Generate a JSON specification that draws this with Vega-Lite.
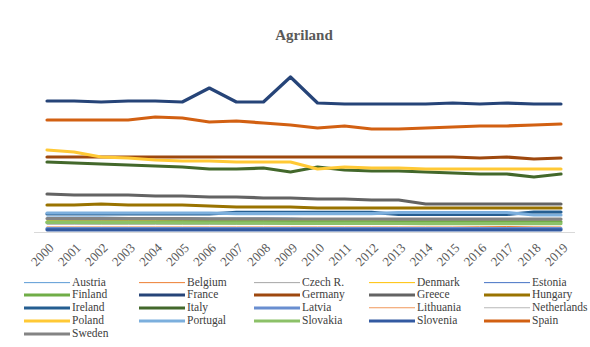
{
  "$schema": "https://vega.github.io/schema/vega-lite/v6.json",
  "width": 541,
  "height": 172,
  "autosize": {"type": "none"},
  "padding": {"left": 33.5, "top": 60, "right": 15.5, "bottom": 115},
  "background": "white",
  "title": {"text": "Agriland", "anchor": "middle", "offset": 17, "font": "Liberation Serif", "fontSize": 15, "fontWeight": "bold", "color": "#595959"},
  "config": {"view": {"stroke": null}},
  "datasets": {
    "agri": [
      {"country":"Austria","year":"2000","value":3375},{"country":"Austria","year":"2001","value":3375},{"country":"Austria","year":"2002","value":3375},{"country":"Austria","year":"2003","value":3263},{"country":"Austria","year":"2004","value":3263},{"country":"Austria","year":"2005","value":3263},{"country":"Austria","year":"2006","value":3150},{"country":"Austria","year":"2007","value":3150},{"country":"Austria","year":"2008","value":3150},{"country":"Austria","year":"2009","value":3150},{"country":"Austria","year":"2010","value":2925},{"country":"Austria","year":"2011","value":2925},{"country":"Austria","year":"2012","value":2813},{"country":"Austria","year":"2013","value":2813},{"country":"Austria","year":"2014","value":2813},{"country":"Austria","year":"2015","value":2700},{"country":"Austria","year":"2016","value":2700},{"country":"Austria","year":"2017","value":2700},{"country":"Austria","year":"2018","value":2700},{"country":"Austria","year":"2019","value":2700},
      {"country":"Belgium","year":"2000","value":1125},{"country":"Belgium","year":"2001","value":1125},{"country":"Belgium","year":"2002","value":1125},{"country":"Belgium","year":"2003","value":1125},{"country":"Belgium","year":"2004","value":1125},{"country":"Belgium","year":"2005","value":1125},{"country":"Belgium","year":"2006","value":1125},{"country":"Belgium","year":"2007","value":1125},{"country":"Belgium","year":"2008","value":1125},{"country":"Belgium","year":"2009","value":1125},{"country":"Belgium","year":"2010","value":1125},{"country":"Belgium","year":"2011","value":1125},{"country":"Belgium","year":"2012","value":1125},{"country":"Belgium","year":"2013","value":1125},{"country":"Belgium","year":"2014","value":1125},{"country":"Belgium","year":"2015","value":1125},{"country":"Belgium","year":"2016","value":1180},{"country":"Belgium","year":"2017","value":1240},{"country":"Belgium","year":"2018","value":1150},{"country":"Belgium","year":"2019","value":1125},
      {"country":"Czech R.","year":"2000","value":4280},{"country":"Czech R.","year":"2001","value":4280},{"country":"Czech R.","year":"2002","value":4275},{"country":"Czech R.","year":"2003","value":4270},{"country":"Czech R.","year":"2004","value":4265},{"country":"Czech R.","year":"2005","value":4260},{"country":"Czech R.","year":"2006","value":4255},{"country":"Czech R.","year":"2007","value":4250},{"country":"Czech R.","year":"2008","value":4250},{"country":"Czech R.","year":"2009","value":4245},{"country":"Czech R.","year":"2010","value":4240},{"country":"Czech R.","year":"2011","value":4235},{"country":"Czech R.","year":"2012","value":4230},{"country":"Czech R.","year":"2013","value":4225},{"country":"Czech R.","year":"2014","value":4220},{"country":"Czech R.","year":"2015","value":4215},{"country":"Czech R.","year":"2016","value":4210},{"country":"Czech R.","year":"2017","value":4205},{"country":"Czech R.","year":"2018","value":4200},{"country":"Czech R.","year":"2019","value":4200},
      {"country":"Denmark","year":"2000","value":2640},{"country":"Denmark","year":"2001","value":2640},{"country":"Denmark","year":"2002","value":2640},{"country":"Denmark","year":"2003","value":2620},{"country":"Denmark","year":"2004","value":2620},{"country":"Denmark","year":"2005","value":2600},{"country":"Denmark","year":"2006","value":2600},{"country":"Denmark","year":"2007","value":2600},{"country":"Denmark","year":"2008","value":2600},{"country":"Denmark","year":"2009","value":2600},{"country":"Denmark","year":"2010","value":2620},{"country":"Denmark","year":"2011","value":2620},{"country":"Denmark","year":"2012","value":2620},{"country":"Denmark","year":"2013","value":2620},{"country":"Denmark","year":"2014","value":2620},{"country":"Denmark","year":"2015","value":2620},{"country":"Denmark","year":"2016","value":2620},{"country":"Denmark","year":"2017","value":2620},{"country":"Denmark","year":"2018","value":2620},{"country":"Denmark","year":"2019","value":2620},
      {"country":"Estonia","year":"2000","value":880},{"country":"Estonia","year":"2001","value":880},{"country":"Estonia","year":"2002","value":880},{"country":"Estonia","year":"2003","value":880},{"country":"Estonia","year":"2004","value":880},{"country":"Estonia","year":"2005","value":880},{"country":"Estonia","year":"2006","value":900},{"country":"Estonia","year":"2007","value":900},{"country":"Estonia","year":"2008","value":900},{"country":"Estonia","year":"2009","value":900},{"country":"Estonia","year":"2010","value":940},{"country":"Estonia","year":"2011","value":940},{"country":"Estonia","year":"2012","value":940},{"country":"Estonia","year":"2013","value":960},{"country":"Estonia","year":"2014","value":960},{"country":"Estonia","year":"2015","value":980},{"country":"Estonia","year":"2016","value":980},{"country":"Estonia","year":"2017","value":980},{"country":"Estonia","year":"2018","value":980},{"country":"Estonia","year":"2019","value":980},
      {"country":"Finland","year":"2000","value":2220},{"country":"Finland","year":"2001","value":2220},{"country":"Finland","year":"2002","value":2220},{"country":"Finland","year":"2003","value":2230},{"country":"Finland","year":"2004","value":2240},{"country":"Finland","year":"2005","value":2260},{"country":"Finland","year":"2006","value":2270},{"country":"Finland","year":"2007","value":2270},{"country":"Finland","year":"2008","value":2270},{"country":"Finland","year":"2009","value":2290},{"country":"Finland","year":"2010","value":2290},{"country":"Finland","year":"2011","value":2290},{"country":"Finland","year":"2012","value":2280},{"country":"Finland","year":"2013","value":2270},{"country":"Finland","year":"2014","value":2270},{"country":"Finland","year":"2015","value":2270},{"country":"Finland","year":"2016","value":2270},{"country":"Finland","year":"2017","value":2270},{"country":"Finland","year":"2018","value":2280},{"country":"Finland","year":"2019","value":2280},
      {"country":"France","year":"2000","value":29475},{"country":"France","year":"2001","value":29475},{"country":"France","year":"2002","value":29250},{"country":"France","year":"2003","value":29475},{"country":"France","year":"2004","value":29475},{"country":"France","year":"2005","value":29250},{"country":"France","year":"2006","value":32400},{"country":"France","year":"2007","value":29250},{"country":"France","year":"2008","value":29250},{"country":"France","year":"2009","value":34875},{"country":"France","year":"2010","value":29025},{"country":"France","year":"2011","value":28800},{"country":"France","year":"2012","value":28800},{"country":"France","year":"2013","value":28800},{"country":"France","year":"2014","value":28800},{"country":"France","year":"2015","value":29025},{"country":"France","year":"2016","value":28800},{"country":"France","year":"2017","value":29025},{"country":"France","year":"2018","value":28800},{"country":"France","year":"2019","value":28800},
      {"country":"Germany","year":"2000","value":16875},{"country":"Germany","year":"2001","value":16875},{"country":"Germany","year":"2002","value":16875},{"country":"Germany","year":"2003","value":16875},{"country":"Germany","year":"2004","value":16875},{"country":"Germany","year":"2005","value":16875},{"country":"Germany","year":"2006","value":16875},{"country":"Germany","year":"2007","value":16875},{"country":"Germany","year":"2008","value":16875},{"country":"Germany","year":"2009","value":16875},{"country":"Germany","year":"2010","value":16875},{"country":"Germany","year":"2011","value":16875},{"country":"Germany","year":"2012","value":16875},{"country":"Germany","year":"2013","value":16875},{"country":"Germany","year":"2014","value":16875},{"country":"Germany","year":"2015","value":16875},{"country":"Germany","year":"2016","value":16650},{"country":"Germany","year":"2017","value":16875},{"country":"Germany","year":"2018","value":16425},{"country":"Germany","year":"2019","value":16650},
      {"country":"Greece","year":"2000","value":8550},{"country":"Greece","year":"2001","value":8325},{"country":"Greece","year":"2002","value":8325},{"country":"Greece","year":"2003","value":8325},{"country":"Greece","year":"2004","value":8100},{"country":"Greece","year":"2005","value":8100},{"country":"Greece","year":"2006","value":7875},{"country":"Greece","year":"2007","value":7875},{"country":"Greece","year":"2008","value":7650},{"country":"Greece","year":"2009","value":7650},{"country":"Greece","year":"2010","value":7425},{"country":"Greece","year":"2011","value":7425},{"country":"Greece","year":"2012","value":7200},{"country":"Greece","year":"2013","value":7200},{"country":"Greece","year":"2014","value":6300},{"country":"Greece","year":"2015","value":6300},{"country":"Greece","year":"2016","value":6300},{"country":"Greece","year":"2017","value":6300},{"country":"Greece","year":"2018","value":6300},{"country":"Greece","year":"2019","value":6300},
      {"country":"Hungary","year":"2000","value":6075},{"country":"Hungary","year":"2001","value":6075},{"country":"Hungary","year":"2002","value":6300},{"country":"Hungary","year":"2003","value":6075},{"country":"Hungary","year":"2004","value":6075},{"country":"Hungary","year":"2005","value":6075},{"country":"Hungary","year":"2006","value":5850},{"country":"Hungary","year":"2007","value":5625},{"country":"Hungary","year":"2008","value":5625},{"country":"Hungary","year":"2009","value":5625},{"country":"Hungary","year":"2010","value":5400},{"country":"Hungary","year":"2011","value":5400},{"country":"Hungary","year":"2012","value":5400},{"country":"Hungary","year":"2013","value":5400},{"country":"Hungary","year":"2014","value":5400},{"country":"Hungary","year":"2015","value":5400},{"country":"Hungary","year":"2016","value":5400},{"country":"Hungary","year":"2017","value":5400},{"country":"Hungary","year":"2018","value":5400},{"country":"Hungary","year":"2019","value":5400},
      {"country":"Ireland","year":"2000","value":4050},{"country":"Ireland","year":"2001","value":4050},{"country":"Ireland","year":"2002","value":4050},{"country":"Ireland","year":"2003","value":4050},{"country":"Ireland","year":"2004","value":4050},{"country":"Ireland","year":"2005","value":4050},{"country":"Ireland","year":"2006","value":4050},{"country":"Ireland","year":"2007","value":4400},{"country":"Ireland","year":"2008","value":4400},{"country":"Ireland","year":"2009","value":4400},{"country":"Ireland","year":"2010","value":4400},{"country":"Ireland","year":"2011","value":4400},{"country":"Ireland","year":"2012","value":4400},{"country":"Ireland","year":"2013","value":3940},{"country":"Ireland","year":"2014","value":3940},{"country":"Ireland","year":"2015","value":3940},{"country":"Ireland","year":"2016","value":3940},{"country":"Ireland","year":"2017","value":3940},{"country":"Ireland","year":"2018","value":4500},{"country":"Ireland","year":"2019","value":4500},
      {"country":"Italy","year":"2000","value":15750},{"country":"Italy","year":"2001","value":15525},{"country":"Italy","year":"2002","value":15300},{"country":"Italy","year":"2003","value":15075},{"country":"Italy","year":"2004","value":14850},{"country":"Italy","year":"2005","value":14625},{"country":"Italy","year":"2006","value":14175},{"country":"Italy","year":"2007","value":14175},{"country":"Italy","year":"2008","value":14400},{"country":"Italy","year":"2009","value":13500},{"country":"Italy","year":"2010","value":14625},{"country":"Italy","year":"2011","value":13950},{"country":"Italy","year":"2012","value":13725},{"country":"Italy","year":"2013","value":13725},{"country":"Italy","year":"2014","value":13500},{"country":"Italy","year":"2015","value":13275},{"country":"Italy","year":"2016","value":13050},{"country":"Italy","year":"2017","value":13050},{"country":"Italy","year":"2018","value":12375},{"country":"Italy","year":"2019","value":13050},
      {"country":"Latvia","year":"2000","value":790},{"country":"Latvia","year":"2001","value":790},{"country":"Latvia","year":"2002","value":790},{"country":"Latvia","year":"2003","value":790},{"country":"Latvia","year":"2004","value":790},{"country":"Latvia","year":"2005","value":790},{"country":"Latvia","year":"2006","value":790},{"country":"Latvia","year":"2007","value":790},{"country":"Latvia","year":"2008","value":790},{"country":"Latvia","year":"2009","value":790},{"country":"Latvia","year":"2010","value":790},{"country":"Latvia","year":"2011","value":790},{"country":"Latvia","year":"2012","value":790},{"country":"Latvia","year":"2013","value":790},{"country":"Latvia","year":"2014","value":790},{"country":"Latvia","year":"2015","value":790},{"country":"Latvia","year":"2016","value":790},{"country":"Latvia","year":"2017","value":790},{"country":"Latvia","year":"2018","value":790},{"country":"Latvia","year":"2019","value":790},
      {"country":"Lithuania","year":"2000","value":2930},{"country":"Lithuania","year":"2001","value":2930},{"country":"Lithuania","year":"2002","value":2930},{"country":"Lithuania","year":"2003","value":2930},{"country":"Lithuania","year":"2004","value":3150},{"country":"Lithuania","year":"2005","value":3150},{"country":"Lithuania","year":"2006","value":2930},{"country":"Lithuania","year":"2007","value":2930},{"country":"Lithuania","year":"2008","value":2930},{"country":"Lithuania","year":"2009","value":2930},{"country":"Lithuania","year":"2010","value":2930},{"country":"Lithuania","year":"2011","value":2930},{"country":"Lithuania","year":"2012","value":2930},{"country":"Lithuania","year":"2013","value":2930},{"country":"Lithuania","year":"2014","value":2930},{"country":"Lithuania","year":"2015","value":2930},{"country":"Lithuania","year":"2016","value":2930},{"country":"Lithuania","year":"2017","value":2930},{"country":"Lithuania","year":"2018","value":2930},{"country":"Lithuania","year":"2019","value":2930},
      {"country":"Netherlands","year":"2000","value":1700},{"country":"Netherlands","year":"2001","value":1700},{"country":"Netherlands","year":"2002","value":1700},{"country":"Netherlands","year":"2003","value":1700},{"country":"Netherlands","year":"2004","value":1700},{"country":"Netherlands","year":"2005","value":1700},{"country":"Netherlands","year":"2006","value":1700},{"country":"Netherlands","year":"2007","value":1700},{"country":"Netherlands","year":"2008","value":1700},{"country":"Netherlands","year":"2009","value":1700},{"country":"Netherlands","year":"2010","value":1700},{"country":"Netherlands","year":"2011","value":1700},{"country":"Netherlands","year":"2012","value":1700},{"country":"Netherlands","year":"2013","value":1700},{"country":"Netherlands","year":"2014","value":1700},{"country":"Netherlands","year":"2015","value":1700},{"country":"Netherlands","year":"2016","value":1700},{"country":"Netherlands","year":"2017","value":1700},{"country":"Netherlands","year":"2018","value":1700},{"country":"Netherlands","year":"2019","value":1700},
      {"country":"Poland","year":"2000","value":18450},{"country":"Poland","year":"2001","value":18000},{"country":"Poland","year":"2002","value":16875},{"country":"Poland","year":"2003","value":16650},{"country":"Poland","year":"2004","value":16200},{"country":"Poland","year":"2005","value":15975},{"country":"Poland","year":"2006","value":15975},{"country":"Poland","year":"2007","value":15750},{"country":"Poland","year":"2008","value":15750},{"country":"Poland","year":"2009","value":15750},{"country":"Poland","year":"2010","value":14175},{"country":"Poland","year":"2011","value":14625},{"country":"Poland","year":"2012","value":14400},{"country":"Poland","year":"2013","value":14400},{"country":"Poland","year":"2014","value":14175},{"country":"Poland","year":"2015","value":14175},{"country":"Poland","year":"2016","value":14175},{"country":"Poland","year":"2017","value":14175},{"country":"Poland","year":"2018","value":14175},{"country":"Poland","year":"2019","value":14175},
      {"country":"Portugal","year":"2000","value":4275},{"country":"Portugal","year":"2001","value":4275},{"country":"Portugal","year":"2002","value":4275},{"country":"Portugal","year":"2003","value":4275},{"country":"Portugal","year":"2004","value":4275},{"country":"Portugal","year":"2005","value":4275},{"country":"Portugal","year":"2006","value":4275},{"country":"Portugal","year":"2007","value":4150},{"country":"Portugal","year":"2008","value":4150},{"country":"Portugal","year":"2009","value":4150},{"country":"Portugal","year":"2010","value":4150},{"country":"Portugal","year":"2011","value":4150},{"country":"Portugal","year":"2012","value":4150},{"country":"Portugal","year":"2013","value":4390},{"country":"Portugal","year":"2014","value":4390},{"country":"Portugal","year":"2015","value":4390},{"country":"Portugal","year":"2016","value":4390},{"country":"Portugal","year":"2017","value":4390},{"country":"Portugal","year":"2018","value":3820},{"country":"Portugal","year":"2019","value":3820},
      {"country":"Slovakia","year":"2000","value":2150},{"country":"Slovakia","year":"2001","value":2140},{"country":"Slovakia","year":"2002","value":2120},{"country":"Slovakia","year":"2003","value":2100},{"country":"Slovakia","year":"2004","value":2080},{"country":"Slovakia","year":"2005","value":2050},{"country":"Slovakia","year":"2006","value":2020},{"country":"Slovakia","year":"2007","value":2000},{"country":"Slovakia","year":"2008","value":1990},{"country":"Slovakia","year":"2009","value":1960},{"country":"Slovakia","year":"2010","value":1940},{"country":"Slovakia","year":"2011","value":1930},{"country":"Slovakia","year":"2012","value":1920},{"country":"Slovakia","year":"2013","value":1910},{"country":"Slovakia","year":"2014","value":1900},{"country":"Slovakia","year":"2015","value":1900},{"country":"Slovakia","year":"2016","value":1890},{"country":"Slovakia","year":"2017","value":1890},{"country":"Slovakia","year":"2018","value":1890},{"country":"Slovakia","year":"2019","value":1890},
      {"country":"Slovenia","year":"2000","value":480},{"country":"Slovenia","year":"2001","value":480},{"country":"Slovenia","year":"2002","value":480},{"country":"Slovenia","year":"2003","value":480},{"country":"Slovenia","year":"2004","value":480},{"country":"Slovenia","year":"2005","value":480},{"country":"Slovenia","year":"2006","value":480},{"country":"Slovenia","year":"2007","value":480},{"country":"Slovenia","year":"2008","value":480},{"country":"Slovenia","year":"2009","value":480},{"country":"Slovenia","year":"2010","value":480},{"country":"Slovenia","year":"2011","value":480},{"country":"Slovenia","year":"2012","value":480},{"country":"Slovenia","year":"2013","value":480},{"country":"Slovenia","year":"2014","value":480},{"country":"Slovenia","year":"2015","value":480},{"country":"Slovenia","year":"2016","value":480},{"country":"Slovenia","year":"2017","value":480},{"country":"Slovenia","year":"2018","value":480},{"country":"Slovenia","year":"2019","value":480},
      {"country":"Spain","year":"2000","value":25200},{"country":"Spain","year":"2001","value":25200},{"country":"Spain","year":"2002","value":25200},{"country":"Spain","year":"2003","value":25200},{"country":"Spain","year":"2004","value":25875},{"country":"Spain","year":"2005","value":25650},{"country":"Spain","year":"2006","value":24750},{"country":"Spain","year":"2007","value":24975},{"country":"Spain","year":"2008","value":24525},{"country":"Spain","year":"2009","value":24075},{"country":"Spain","year":"2010","value":23400},{"country":"Spain","year":"2011","value":23850},{"country":"Spain","year":"2012","value":23175},{"country":"Spain","year":"2013","value":23175},{"country":"Spain","year":"2014","value":23400},{"country":"Spain","year":"2015","value":23625},{"country":"Spain","year":"2016","value":23850},{"country":"Spain","year":"2017","value":23850},{"country":"Spain","year":"2018","value":24075},{"country":"Spain","year":"2019","value":24300},
      {"country":"Sweden","year":"2000","value":3040},{"country":"Sweden","year":"2001","value":3030},{"country":"Sweden","year":"2002","value":3020},{"country":"Sweden","year":"2003","value":3010},{"country":"Sweden","year":"2004","value":3000},{"country":"Sweden","year":"2005","value":3000},{"country":"Sweden","year":"2006","value":2960},{"country":"Sweden","year":"2007","value":2950},{"country":"Sweden","year":"2008","value":2940},{"country":"Sweden","year":"2009","value":2930},{"country":"Sweden","year":"2010","value":2920},{"country":"Sweden","year":"2011","value":2920},{"country":"Sweden","year":"2012","value":2920},{"country":"Sweden","year":"2013","value":2910},{"country":"Sweden","year":"2014","value":2910},{"country":"Sweden","year":"2015","value":2900},{"country":"Sweden","year":"2016","value":2900},{"country":"Sweden","year":"2017","value":2900},{"country":"Sweden","year":"2018","value":2900},{"country":"Sweden","year":"2019","value":2900}
    ]
  },
  "data": {"name": "agri"},
  "mark": {"type": "line", "strokeJoin": "round", "strokeCap": "round"},
  "encoding": {
    "x": {
      "field": "year", "type": "ordinal",
      "scale": {"type": "point", "padding": 0.5},
      "axis": {"title": null, "labelAngle": -45, "ticks": false, "grid": false, "domainColor": "#D9D9D9", "domainWidth": 1, "labelFont": "Liberation Serif", "labelFontSize": 13, "labelColor": "#595959", "labelPadding": 9}
    },
    "y": {
      "field": "value", "type": "quantitative",
      "scale": {"domain": [0, 38700], "nice": false},
      "axis": null
    },
    "color": {
      "field": "country", "type": "nominal",
      "scale": {
        "domain": ["Austria","Belgium","Czech R.","Denmark","Estonia","Finland","France","Germany","Greece","Hungary","Ireland","Italy","Latvia","Lithuania","Netherlands","Poland","Portugal","Slovakia","Slovenia","Spain","Sweden"],
        "range": ["#5B9BD5","#ED7D31","#A5A5A5","#FFC000","#4472C4","#70AD47","#264478","#9E480E","#636363","#997300","#255E91","#43682B","#698ED0","#F1975A","#B7B7B7","#FFC935","#7CAFDD","#8CC168","#335AA1","#D26012","#848484"]
      },
      "legend": {
        "title": null, "orient": "none", "legendX": -11.5, "legendY": 216,
        "direction": "horizontal", "columns": 5, "gridAlign": "all",
        "columnPadding": 4, "rowPadding": -1.6,
        "symbolType": "M-1,0H10.5", "symbolSize": 64,
        "labelOffset": 38, "labelFont": "Liberation Serif", "labelFontSize": 11.5, "labelColor": "#404040"
      }
    },
    "strokeWidth": {
      "field": "country", "type": "nominal",
      "scale": {
        "type": "ordinal",
        "domain": ["Austria","Belgium","Czech R.","Denmark","Estonia","Finland","France","Germany","Greece","Hungary","Ireland","Italy","Latvia","Lithuania","Netherlands","Poland","Portugal","Slovakia","Slovenia","Spain","Sweden"],
        "range": [1,1,1,1,1,3.2,3.2,3.2,3.2,3.2,3.2,3.2,3.2,1,1,3.2,3.2,3.2,3.2,3.2,3.2]
      },
      "legend": {
        "title": null, "orient": "none", "legendX": -11.5, "legendY": 216,
        "direction": "horizontal", "columns": 5, "gridAlign": "all",
        "columnPadding": 4, "rowPadding": -1.6,
        "symbolType": "M-1,0H10.5", "symbolSize": 64,
        "labelOffset": 38, "labelFont": "Liberation Serif", "labelFontSize": 11.5, "labelColor": "#404040"
      }
    }
  }
}
